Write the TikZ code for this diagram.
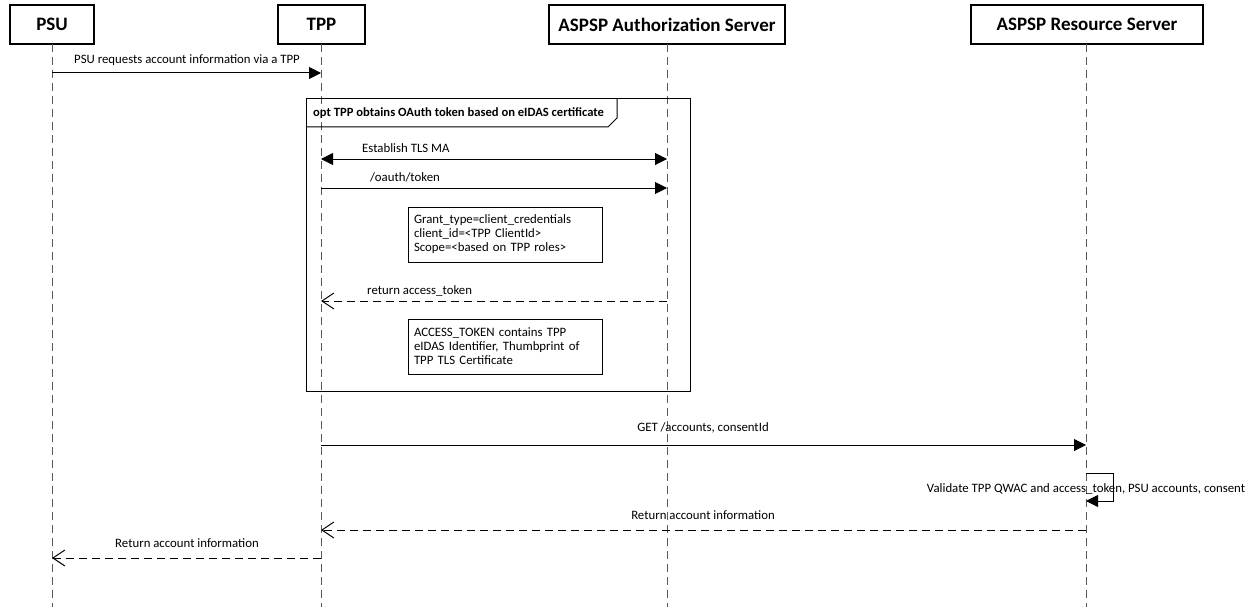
\documentclass[tikz,border=0pt]{standalone}
\usepackage{fontspec}
\setmainfont{Carlito}
\usetikzlibrary{arrows.meta}
\begin{document}
\begin{tikzpicture}[x=1pt,y=-1pt,
  actor/.style={draw, line width=1.2pt, minimum height=39pt, inner sep=0pt,
    font=\fontsize{19}{21}\selectfont\bfseries},
  life/.style={draw=black!65, line width=1pt, dash pattern=on 8pt off 5pt},
  msg/.style={line width=1pt, -{Triangle[length=12pt,width=12pt]}},
  bimsg/.style={line width=1pt, {Triangle[length=12pt,width=12pt]}-{Triangle[length=12pt,width=12pt]}},
  ret/.style={line width=1pt, dash pattern=on 8pt off 5pt,
    -{Straight Barb[length=12pt,width=16pt,line width=1pt]}},
  lbl/.style={font=\fontsize{12.8}{14}\selectfont, inner sep=0pt},
  note/.style={draw, line width=1pt, minimum width=194pt, minimum height=55pt,
    inner sep=0pt, align=left, text width=182pt,
    font=\fontsize{12.8}{14}\selectfont},
  frame/.style={draw, line width=1pt}]
\useasboundingbox (0,0) rectangle (1255,607);
% actors
\node[actor, minimum width=84pt] (psu) at (52,24.5) {PSU};
\node[actor, minimum width=87pt] (tpp) at (321.5,24.5) {TPP};
\node[actor, minimum width=236pt] (as) at (667,24.5) {ASPSP Authorization Server};
\node[actor, minimum width=232pt] (rs) at (1087,24.5) {ASPSP Resource Server};
% lifeline ends
\coordinate (psuE) at (52,607);
\coordinate (tppE) at (321,607);
\coordinate (asE) at (667,607);
\coordinate (rsE) at (1086,607);
\draw[life] (52,44) -- (psuE);
\draw[life] (321,44) -- (tppE);
\draw[life] (667,44) -- (asE);
\draw[life] (1086,44) -- (rsE);
% message points
\coordinate (m1a) at (52,73);   \coordinate (m1b) at (321,73);
\coordinate (m2a) at (321,159); \coordinate (m2b) at (667,159);
\coordinate (m3a) at (321,188); \coordinate (m3b) at (667,188);
\coordinate (m4a) at (667,301); \coordinate (m4b) at (321,301);
\coordinate (m5a) at (321,445); \coordinate (m5b) at (1086,445);
\coordinate (s1) at (1086,473); \coordinate (s2) at (1113,473);
\coordinate (s3) at (1113,501); \coordinate (s4) at (1086,501);
\coordinate (m6a) at (1086,530); \coordinate (m6b) at (321,530);
\coordinate (m7a) at (321,558); \coordinate (m7b) at (52,558);
% opt frame
\coordinate (fTL) at (306,99);
\coordinate (fBR) at (690,391);
\draw[frame] (fTL) rectangle (fBR);
\coordinate (t1) at (306,127); \coordinate (t2) at (608,127);
\coordinate (t3) at (617,118); \coordinate (t4) at (617,99);
\draw[frame] (t1) -- (t2) -- (t3) -- (t4);
\node[lbl, anchor=west, font=\fontsize{12.6}{14}\selectfont\bfseries] (optlbl) at (313,113)
  {opt TPP obtains OAuth token based on eIDAS certificate};
% messages
\draw[msg] (m1a) -- (m1b);
\node[lbl] (l1) at (187,60) {PSU requests account information via a TPP};
\draw[bimsg] (m2a) -- (m2b);
\node[lbl, anchor=west] (l2) at (362,148) {Establish TLS MA};
\draw[msg] (m3a) -- (m3b);
\node[lbl, anchor=west] (l3) at (370,177) {/oauth/token};
\node[note] (n1) at (505,234.5) {Grant\_type=client\_credentials\\client\_id=<TPP ClientId>\\Scope=<based on TPP roles>};
\draw[ret] (m4a) -- (m4b);
\node[lbl, anchor=west] (l4) at (367,291) {return access\_token};
\node[note] (n2) at (505,346.5) {ACCESS\_TOKEN contains TPP\\eIDAS Identifier, Thumbprint of\\TPP TLS Certificate};
\draw[msg] (m5a) -- (m5b);
\node[lbl] (l5) at (703,428) {GET /accounts, consentId};
\draw[line width=1pt, -{Triangle[length=12pt,width=12pt]}] (s1) -- (s2) -- (s3) -- (s4);
\node[lbl] (l6) at (1086,489) {Validate TPP QWAC and access\_token, PSU accounts, consent};
\draw[ret] (m6a) -- (m6b);
\node[lbl] (l7) at (703,515) {Return account information};
\draw[ret] (m7a) -- (m7b);
\node[lbl] (l8) at (187,543) {Return account information};
\end{tikzpicture}
\end{document}
